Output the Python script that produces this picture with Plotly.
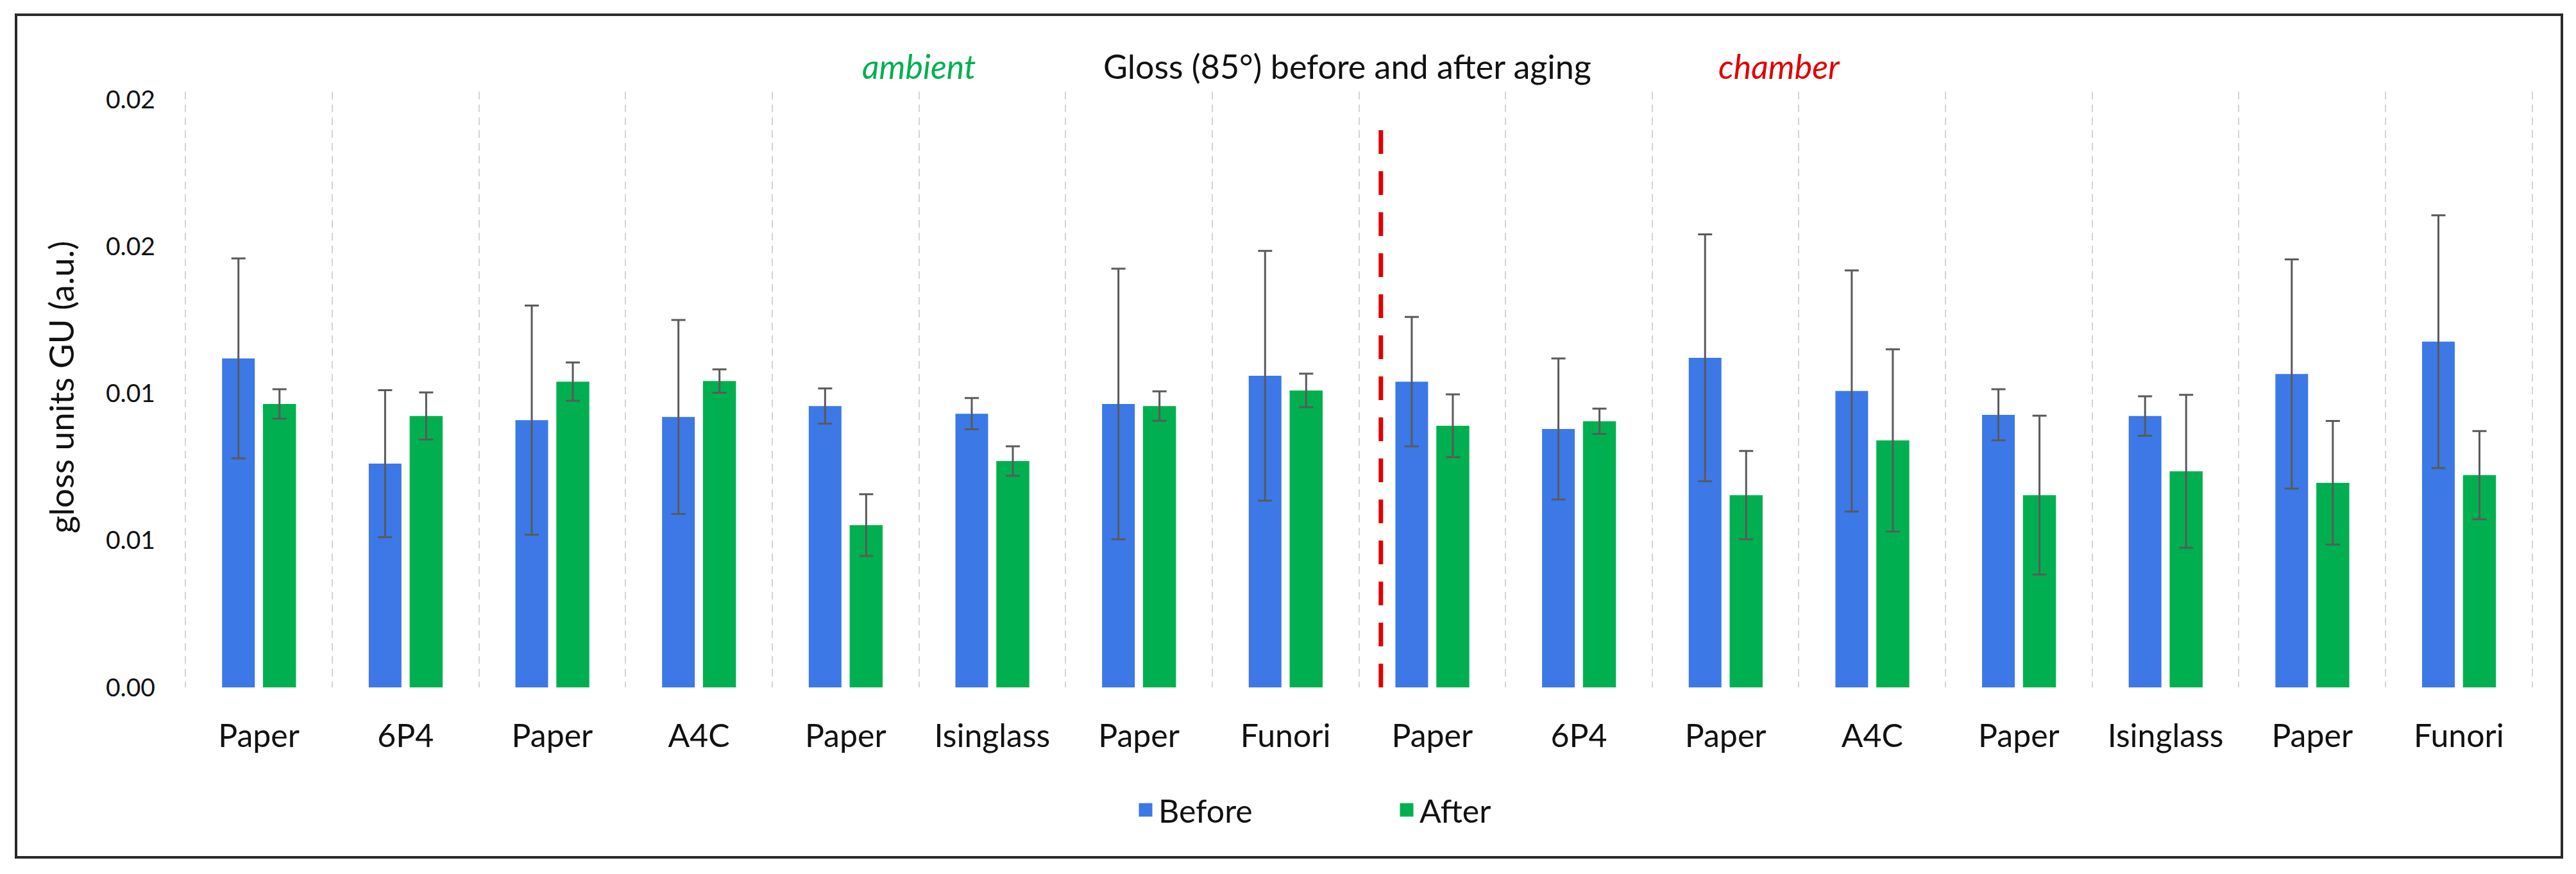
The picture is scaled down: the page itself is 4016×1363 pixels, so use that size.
import plotly.graph_objects as go

# ---------------- data ----------------
categories = ["Paper", "6P4", "Paper", "A4C", "Paper", "Isinglass", "Paper", "Funori",
              "Paper", "6P4", "Paper", "A4C", "Paper", "Isinglass", "Paper", "Funori"]
before = [0.01119, 0.00761, 0.00909, 0.00920, 0.00957, 0.00931, 0.00964, 0.01060,
          0.01040, 0.00879, 0.01121, 0.01008, 0.00927, 0.00923, 0.01066, 0.01176]
before_err = [0.00340, 0.00250, 0.00390, 0.00330, 0.00060, 0.00053, 0.00460, 0.00425,
              0.00220, 0.00240, 0.00420, 0.00410, 0.00087, 0.00067, 0.00390, 0.00430]
after = [0.00964, 0.00923, 0.01040, 0.01042, 0.00552, 0.00770, 0.00957, 0.01010,
         0.00890, 0.00905, 0.00654, 0.00840, 0.00654, 0.00735, 0.00696, 0.00722]
after_err = [0.00050, 0.00080, 0.00065, 0.00040, 0.00105, 0.00050, 0.00050, 0.00057,
             0.00107, 0.00043, 0.00150, 0.00310, 0.00270, 0.00260, 0.00210, 0.00150]
ytick_vals = [0.0, 0.005, 0.01, 0.015, 0.02]
ytick_text = ["0.00", "0.01", "0.01", "0.02", "0.02"]
divider_x = 7.65       # position of the ambient / chamber separator (category units)
divider_top = 0.0193   # top of the separator (value units)

# ---------------- style ----------------
W, H = 4016, 1363
L, R, T, B = 287, 3950, 143, 1072
BLUE = "#3C78E6"
GREEN = "#00B050"
RED = "#E00000"
ERR = "#5A5A5A"
TXT = "#111111"
FONT = "Lato"


def px_x(px):
    return (px - L) / (R - L)


def px_y(py):
    return (B - py) / (B - T)


xs = list(range(len(categories)))
fig = go.Figure()

fig.add_trace(go.Bar(
    x=xs, y=before, name="Before", showlegend=False,
    offset=-0.251, width=0.223,
    marker=dict(color=BLUE, line=dict(width=0)),
    error_y=dict(type="data", array=before_err, visible=True,
                 color=ERR, thickness=3, width=11),
))
fig.add_trace(go.Bar(
    x=xs, y=after, name="After", showlegend=False,
    offset=0.028, width=0.225,
    marker=dict(color=GREEN, line=dict(width=0)),
    error_y=dict(type="data", array=after_err, visible=True,
                 color=ERR, thickness=3, width=11),
))

# legend entries
for nm, col in (("Before", BLUE), ("After", GREEN)):
    fig.add_trace(go.Scatter(
        x=[None], y=[None], mode="markers", name=nm,
        marker=dict(symbol="square", size=16, color=col, line=dict(color=col, width=5)),
    ))

# separator line
fig.add_shape(type="line", xref="x", yref="y",
              x0=divider_x, x1=divider_x, y0=0, y1=divider_top,
              line=dict(color=RED, width=7, dash="37px,27px"))

# outer frame
fig.add_shape(type="rect", xref="paper", yref="paper",
              x0=px_x(25), x1=px_x(3994), y0=px_y(1337), y1=px_y(23),
              line=dict(color="#2A2A2A", width=4), layer="below")

fig.add_annotation(text="Gloss (85°) before and after aging", xref="paper", yref="paper",
                   x=px_x(2100), y=px_y(103), xanchor="center", yanchor="middle",
                   showarrow=False, font=dict(family=FONT, size=52, color=TXT))
fig.add_annotation(text="<i>ambient</i>", xref="paper", yref="paper",
                   x=px_x(1433), y=px_y(103), xanchor="center", yanchor="middle",
                   showarrow=False, font=dict(family=FONT, size=52, color=GREEN))
fig.add_annotation(text="<i>chamber</i>", xref="paper", yref="paper",
                   x=px_x(2774), y=px_y(103), xanchor="center", yanchor="middle",
                   showarrow=False, font=dict(family=FONT, size=52, color=RED))
fig.add_annotation(text="gloss units GU (a.u.)", xref="paper", yref="paper",
                   x=px_x(94), y=px_y(604), xanchor="center", yanchor="middle",
                   textangle=-90, showarrow=False,
                   font=dict(family=FONT, size=53, color=TXT))

fig.update_layout(
    width=W, height=H,
    margin=dict(l=L, r=W - R, t=T, b=H - B, pad=0),
    paper_bgcolor="white", plot_bgcolor="white",
    barmode="overlay",
    font=dict(family=FONT, color=TXT),
    showlegend=True,
    legend=dict(orientation="h", x=px_x(1766), xanchor="left",
                y=px_y(1263), yanchor="middle",
                font=dict(family=FONT, size=50, color=TXT),
                entrywidth=362, entrywidthmode="pixels",
                bgcolor="rgba(0,0,0,0)", borderwidth=0),
    xaxis=dict(range=[-0.51, len(categories) - 0.49],
               tickmode="array", tickvals=xs, ticktext=categories,
               showgrid=False, zeroline=False, showline=False, ticks="",
               ticklabelstandoff=42,
               tickfont=dict(family=FONT, size=50, color=TXT),
               minor=dict(tickmode="array",
                          tickvals=[i - 0.5 for i in range(len(categories) + 1)],
                          showgrid=True, gridcolor="#D4D4D4", gridwidth=2,
                          griddash="12px,8px", ticks="")),
    yaxis=dict(range=[0, 0.02 * (B - T) / (B - 155)],
               tickmode="array", tickvals=ytick_vals, ticktext=ytick_text,
               showgrid=False, zeroline=False, showline=False, ticks="",
               ticklabelstandoff=44,
               tickfont=dict(family=FONT, size=39, color=TXT)),
)

fig.write_html("out.html", config={"displayModeBar": False},
               post_script="document.body.style.margin='0';")
